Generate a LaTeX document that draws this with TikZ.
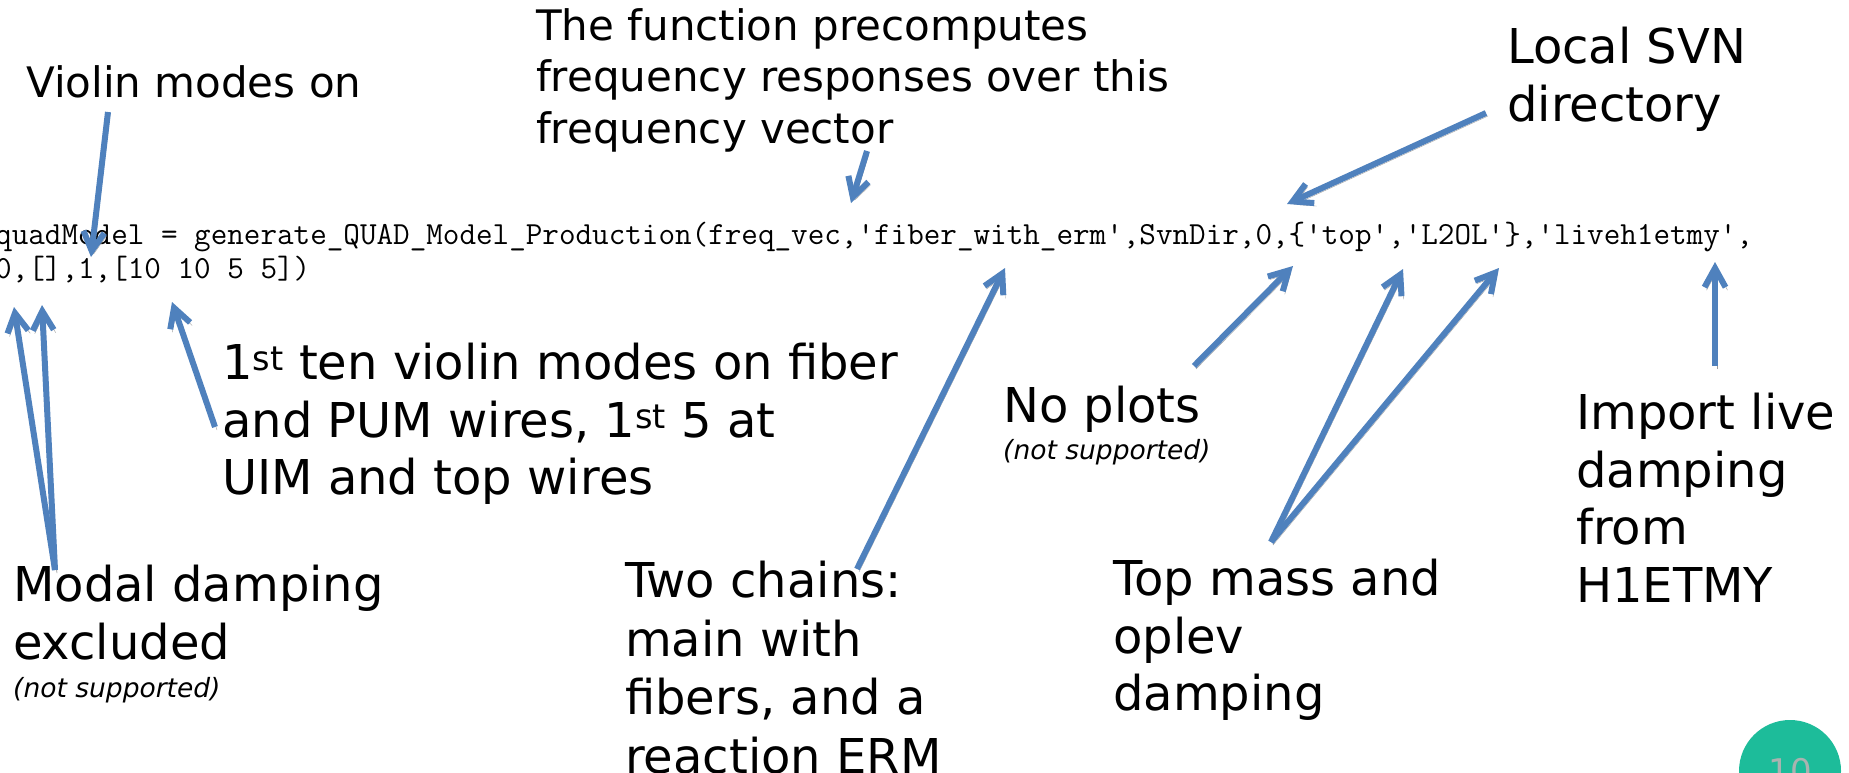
\documentclass[tikz,border=0pt]{standalone}
\usepackage{fontspec}
\setmainfont{DejaVu Sans}
\usetikzlibrary{arrows.meta, positioning}
\definecolor{arrowblue}{HTML}{4F81BD}
\definecolor{shadowgray}{HTML}{9C9C9C}
\definecolor{pagegreen}{HTML}{1DBC9A}
\definecolor{pagegray}{HTML}{A9B3B0}
\newcommand{\sqt}{\textquotesingle}

\begin{document}
\begin{tikzpicture}[x=1pt, y=-1pt,
  label/.style={anchor=north west, inner sep=0pt, align=left,
                font=\fontsize{48}{57.5}\selectfont},
  small label/.style={label, font=\fontsize{42}{51.5}\selectfont},
  note/.style={anchor=north west, inner sep=0pt,
               font=\fontsize{26.5}{31}\selectfont\itshape},
  code/.style={anchor=base west, inner sep=0pt,
               font=\ttfamily\fontsize{32.2}{34}\selectfont},
  arrow/.style={-{Straight Barb[length=19pt, width=21pt]}, line width=6pt,
                draw=arrowblue,
                preaction={draw=shadowgray, transform canvas={shift={(2pt,-3pt)}}}}
]
  \path[use as bounding box, fill=white] (0,0) rectangle (1849,773);

  % the call being explained
  \node[code] (code1) at (-5,244) {quadModel = generate\_QUAD\_Model\_Production(freq\_vec,\sqt fiber\_with\_erm\sqt,SvnDir,0,\{\sqt top\sqt,\sqt L2OL\sqt\},\sqt liveh1etmy\sqt,};
  \node[code] (code2) at (-5,278) {0,[],1,[10 10 5 5])};

  % callouts
  \node[small label] (violin) at (26,65) {Violin modes on};
  \node[small label] (freqvec) at (536,8)
    {The function precomputes\\frequency responses over this\\frequency vector};
  \node[label] (svndir) at (1507,27) {Local SVN\\directory};
  \node[label] (tenmodes) at (222,343)
    {1\textsuperscript{st} ten violin modes on fiber\\and PUM wires, 1\textsuperscript{st} 5 at\\UIM and top wires};
  \node[label] (noplots) at (1003,386) {No plots};
  \node[note, below=6pt of noplots.south west, anchor=north west] (noplotsnote) {(not supported)};
  \node[label] (import) at (1576,393) {Import live\\damping\\from\\H1ETMY};
  \node[label] (modal) at (13,565) {Modal damping\\excluded};
  \node[note, below=17pt of modal.south west, anchor=north west] (modalnote) {(not supported)};
  \node[label, font=\fontsize{48}{58.6}\selectfont] (chains) at (625,561)
    {Two chains:\\main with\\fibers, and a\\reaction ERM};
  \node[label] (topmass) at (1113,559) {Top mass and\\oplev\\damping};

  % arrow ends
  \coordinate (violinfrom) at (108,112);   \coordinate (violinto) at (91,257);
  \coordinate (freqfrom) at (867,151);     \coordinate (freqto) at (851,203);
  \coordinate (svnfrom) at (1486,113);     \coordinate (svnto) at (1287,204);
  \coordinate (modalfrom) at (55,570);
  \coordinate (modalto1) at (14,307);      \coordinate (modalto2) at (42,305);
  \coordinate (tenfrom) at (215,427);      \coordinate (tento) at (172,302);
  \coordinate (chainsfrom) at (857,569);   \coordinate (chainsto) at (1005,268);
  \coordinate (plotsfrom) at (1194,366);   \coordinate (plotsto) at (1293,266);
  \coordinate (topfrom) at (1271,542);
  \coordinate (topto1) at (1403,269);      \coordinate (topto2) at (1499,268);
  \coordinate (importfrom) at (1715,366);  \coordinate (importto) at (1715,262);

  \draw[arrow] (violinfrom) -- (violinto);
  \draw[arrow] (freqfrom) -- (freqto);
  \draw[arrow] (svnfrom) -- (svnto);
  \draw[arrow] (modalfrom) -- (modalto1);
  \draw[arrow] (modalfrom) -- (modalto2);
  \draw[arrow] (tenfrom) -- (tento);
  \draw[arrow] (chainsfrom) -- (chainsto);
  \draw[arrow] (plotsfrom) -- (plotsto);
  \draw[arrow] (topfrom) -- (topto1);
  \draw[arrow] (topfrom) -- (topto2);
  \draw[arrow] (importfrom) -- (importto);

  % slide number
  \node[circle, fill=pagegreen, minimum size=102pt, inner sep=0pt,
        font=\fontsize{34}{34}\selectfont\color{pagegray}] (pagenum) at (1790,771) {10};
\end{tikzpicture}
\end{document}
